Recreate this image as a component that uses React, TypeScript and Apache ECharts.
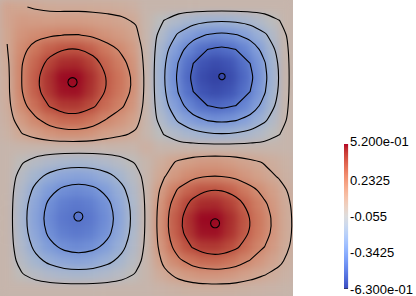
import React, { useEffect, useRef } from "react";
import * as echarts from "echarts";

// Scalar field sampled on a 21 x 21 grid (rows top -> bottom, columns left -> right)
const fieldRows: number[][] = [
  [0.100, 0.095, 0.080, 0.070, 0.068, 0.068, 0.066, 0.062, 0.055, 0.040, 0, 0, 0, 0, 0, 0, 0, 0, 0, 0, 0],
  [0.100, 0.140, 0.135, 0.132, 0.135, 0.135, 0.128, 0.118, 0.105, 0.080, 0, -0.060, -0.114, -0.157, -0.185, -0.195, -0.185, -0.157, -0.114, -0.060, 0],
  [0.095, 0.170, 0.200, 0.220, 0.235, 0.237, 0.215, 0.180, 0.150, 0.110, 0, -0.114, -0.218, -0.300, -0.352, -0.370, -0.352, -0.300, -0.218, -0.114, 0],
  [0.085, 0.200, 0.275, 0.335, 0.372, 0.375, 0.340, 0.275, 0.215, 0.150, 0, -0.157, -0.300, -0.412, -0.485, -0.510, -0.485, -0.412, -0.300, -0.157, 0],
  [0.070, 0.225, 0.320, 0.412, 0.466, 0.469, 0.420, 0.332, 0.262, 0.180, 0, -0.185, -0.352, -0.485, -0.570, -0.599, -0.570, -0.485, -0.352, -0.185, 0],
  [0.063, 0.230, 0.348, 0.454, 0.513, 0.517, 0.463, 0.366, 0.289, 0.199, 0, -0.195, -0.370, -0.510, -0.599, -0.630, -0.599, -0.510, -0.370, -0.195, 0],
  [0.061, 0.225, 0.341, 0.445, 0.503, 0.507, 0.454, 0.358, 0.283, 0.195, 0, -0.185, -0.352, -0.485, -0.570, -0.599, -0.570, -0.485, -0.352, -0.185, 0],
  [0.053, 0.195, 0.295, 0.385, 0.435, 0.438, 0.392, 0.310, 0.245, 0.168, 0, -0.157, -0.300, -0.412, -0.485, -0.510, -0.485, -0.412, -0.300, -0.157, 0],
  [0.039, 0.142, 0.214, 0.280, 0.316, 0.319, 0.285, 0.225, 0.178, 0.122, 0, -0.114, -0.218, -0.300, -0.352, -0.370, -0.352, -0.300, -0.218, -0.114, 0],
  [0.023, 0.084, 0.127, 0.166, 0.187, 0.189, 0.169, 0.133, 0.105, 0.072, 0, -0.060, -0.114, -0.157, -0.185, -0.195, -0.185, -0.157, -0.114, -0.060, 0],
  [0, 0, 0, 0, 0, 0, 0, 0, 0, 0, 0.040, 0, 0, 0, 0, 0, 0, 0, 0, 0, 0],
  [0, -0.046, -0.087, -0.120, -0.141, -0.148, -0.141, -0.120, -0.087, -0.046, 0, 0.055, 0.102, 0.134, 0.151, 0.152, 0.137, 0.109, 0.081, 0.052, 0.023],
  [0, -0.087, -0.166, -0.228, -0.268, -0.282, -0.268, -0.228, -0.166, -0.087, 0, 0.084, 0.154, 0.204, 0.229, 0.230, 0.208, 0.165, 0.122, 0.080, 0.035],
  [0, -0.120, -0.228, -0.314, -0.369, -0.388, -0.369, -0.314, -0.228, -0.120, 0, 0.135, 0.249, 0.328, 0.370, 0.372, 0.335, 0.267, 0.197, 0.128, 0.056],
  [0, -0.141, -0.268, -0.369, -0.434, -0.456, -0.434, -0.369, -0.268, -0.141, 0, 0.170, 0.314, 0.413, 0.465, 0.468, 0.422, 0.335, 0.249, 0.162, 0.071],
  [0, -0.148, -0.282, -0.388, -0.456, -0.480, -0.456, -0.388, -0.282, -0.148, 0, 0.188, 0.347, 0.457, 0.515, 0.517, 0.466, 0.371, 0.275, 0.179, 0.078],
  [0, -0.141, -0.268, -0.369, -0.434, -0.456, -0.434, -0.369, -0.268, -0.141, 0, 0.184, 0.340, 0.448, 0.504, 0.507, 0.457, 0.363, 0.269, 0.175, 0.077],
  [0, -0.120, -0.228, -0.314, -0.369, -0.388, -0.369, -0.314, -0.228, -0.120, 0, 0.159, 0.294, 0.387, 0.436, 0.438, 0.395, 0.314, 0.233, 0.151, 0.066],
  [0, -0.087, -0.166, -0.228, -0.268, -0.282, -0.268, -0.228, -0.166, -0.087, 0, 0.115, 0.212, 0.279, 0.314, 0.316, 0.285, 0.227, 0.168, 0.109, 0.048],
  [0, -0.046, -0.087, -0.120, -0.141, -0.148, -0.141, -0.120, -0.087, -0.046, 0, 0.062, 0.115, 0.152, 0.171, 0.172, 0.155, 0.123, 0.091, 0.059, 0.026],
  [0, 0, 0, 0, 0, 0, 0, 0, 0, 0, 0, 0.015, 0.028, 0.037, 0.041, 0.042, 0.038, 0.030, 0.022, 0.014, 0.006],
];

// Contour values
const contourLevels = [-0.48625, -0.3425, -0.19875, -0.055, 0.08875, 0.2325, 0.37625];

// Extrema (grid index units): TL max, TR min, BL min, BR max
const extremaX = [4.57, 15.02, 4.98, 14.54];
const extremaY = [5.34, 4.93, 14.86, 15.34];

// Colour bar
const valueMin = -0.63;
const valueMax = 0.52;
const colorbarLabels = ["-6.300e-01", "-0.3425", "-0.055", "0.2325", "5.200e-01"];

// Cool to Warm colour map
const coolWarm: number[][] = [
  [59, 76, 192], [68, 90, 204], [77, 104, 215], [87, 117, 225], [98, 130, 234], [108, 142, 241],
  [119, 154, 247], [130, 165, 251], [141, 176, 254], [152, 185, 255], [163, 194, 255], [174, 201, 253],
  [184, 208, 249], [194, 213, 244], [204, 217, 238], [213, 219, 230], [221, 221, 221], [229, 216, 209],
  [236, 211, 197], [241, 204, 185], [245, 196, 173], [247, 187, 160], [247, 177, 148], [246, 166, 135],
  [244, 154, 123], [241, 141, 111], [236, 127, 99], [229, 112, 88], [222, 96, 77], [213, 80, 66],
  [203, 62, 56], [192, 40, 47], [180, 4, 38],
];

const PLOT_W = 293;
const PLOT_H = 296;
const NY = fieldRows.length;
const NX = fieldRows[0].length;
const CELL_W = PLOT_W / (NX - 1);
const CELL_H = PLOT_H / (NY - 1);
const SHADE = 0.85;
const markerRadii = [4.6, 3.2, 4.5, 4.5];

function rgbStr(c: number[], f = 1) {
  return `rgb(${Math.round(c[0] * f)},${Math.round(c[1] * f)},${Math.round(c[2] * f)})`;
}

function colorAt(v: number, f = 1) {
  const t = ((v - valueMin) / (valueMax - valueMin)) * (coolWarm.length - 1);
  const k = Math.min(coolWarm.length - 2, Math.max(0, Math.floor(t)));
  const u = Math.min(1, Math.max(0, t - k));
  const a = coolWarm[k];
  const b = coolWarm[k + 1];
  return rgbStr([a[0] + (b[0] - a[0]) * u, a[1] + (b[1] - a[1]) * u, a[2] + (b[2] - a[2]) * u], f);
}

type Chain = { closed: boolean; pts: number[][] };

function contourChains(g: number[][], level: number): Chain[] {
  const pts = new Map<string, number[]>();
  const segs: string[][] = [];
  const ny = g.length;
  const nx = g[0].length;
  const ep = (key: string, x0: number, y0: number, v0: number, x1: number, y1: number, v1: number) => {
    if (!pts.has(key)) {
      const t = (level - v0) / (v1 - v0);
      pts.set(key, [x0 + (x1 - x0) * t, y0 + (y1 - y0) * t]);
    }
    return key;
  };
  for (let j = 0; j < ny - 1; j++) {
    for (let i = 0; i < nx - 1; i++) {
      const a = g[j][i], b = g[j][i + 1], c = g[j + 1][i + 1], d = g[j + 1][i];
      const A = a > level, B = b > level, C = c > level, D = d > level;
      const e: Record<string, string> = {};
      if (A !== B) e.top = ep(`h${i}_${j}`, i, j, a, i + 1, j, b);
      if (B !== C) e.right = ep(`v${i + 1}_${j}`, i + 1, j, b, i + 1, j + 1, c);
      if (D !== C) e.bottom = ep(`h${i}_${j + 1}`, i, j + 1, d, i + 1, j + 1, c);
      if (A !== D) e.left = ep(`v${i}_${j}`, i, j, a, i, j + 1, d);
      const ks = Object.keys(e);
      if (ks.length === 2) {
        segs.push([e[ks[0]], e[ks[1]]]);
      } else if (ks.length === 4) {
        const center = (a + b + c + d) / 4 > level;
        if (A) {
          if (center) { segs.push([e.top, e.right]); segs.push([e.left, e.bottom]); }
          else { segs.push([e.top, e.left]); segs.push([e.right, e.bottom]); }
        } else {
          if (center) { segs.push([e.top, e.left]); segs.push([e.right, e.bottom]); }
          else { segs.push([e.top, e.right]); segs.push([e.left, e.bottom]); }
        }
      }
    }
  }
  const adj = new Map<string, number[]>();
  segs.forEach((s, idx) => {
    for (const k of s) {
      if (!adj.has(k)) adj.set(k, []);
      adj.get(k)!.push(idx);
    }
  });
  const used = segs.map(() => false);
  const chains: Chain[] = [];
  for (let s0 = 0; s0 < segs.length; s0++) {
    if (used[s0]) continue;
    used[s0] = true;
    const keys = [segs[s0][0], segs[s0][1]];
    const extend = (front: boolean) => {
      for (;;) {
        const end = front ? keys[keys.length - 1] : keys[0];
        const next = (adj.get(end) || []).find((n) => !used[n]);
        if (next === undefined) break;
        used[next] = true;
        const s = segs[next];
        const other = s[0] === end ? s[1] : s[0];
        if (front) keys.push(other);
        else keys.unshift(other);
      }
    };
    extend(true);
    extend(false);
    const closed = keys.length > 2 && keys[0] === keys[keys.length - 1];
    if (closed) keys.pop();
    chains.push({ closed, pts: keys.map((k) => pts.get(k)!) });
  }
  return chains;
}

export default function App() {
  const heatRef = useRef<HTMLDivElement>(null);
  const overRef = useRef<HTMLDivElement>(null);

  useEffect(() => {
    const heat = echarts.init(heatRef.current!, null, { renderer: "svg" });
    const over = echarts.init(overRef.current!, null, { renderer: "svg" });

    const heatData: number[][] = [];
    fieldRows.forEach((row, j) => row.forEach((v, i) => heatData.push([i, j, v])));
    const xCats = fieldRows[0].map((_, i) => String(i));
    const yCats = fieldRows.map((_, j) => String(j));
    const gridRect = {
      left: -CELL_W / 2,
      top: -CELL_H / 2,
      width: NX * CELL_W,
      height: NY * CELL_H,
    };

    heat.setOption({
      animation: false,
      grid: { ...gridRect, containLabel: false },
      xAxis: { type: "category", data: xCats, show: false },
      yAxis: { type: "category", data: yCats, show: false, inverse: true },
      visualMap: {
        show: false,
        min: valueMin,
        max: valueMax,
        dimension: 2,
        seriesIndex: 0,
        inRange: { color: coolWarm.map((c) => rgbStr(c, SHADE)) },
      },
      series: [
        {
          type: "heatmap",
          data: heatData,
          itemStyle: { borderWidth: 0 },
          emphasis: { disabled: true },
        },
      ],
    });

    const range = valueMax - valueMin;
    const step = range / 4;
    const stops = coolWarm.map((c, k) => ({ offset: k / (coolWarm.length - 1), color: rgbStr(c) }));
    const labelFont = { fontFamily: "Liberation Sans", fontSize: 13, color: "#000" };

    over.setOption({
      animation: false,
      grid: [
        { ...gridRect, containLabel: false },
        { left: 344, top: 144, width: 8, height: 148, containLabel: false },
      ],
      xAxis: [
        { type: "value", gridIndex: 0, min: -0.5, max: NX - 0.5, show: false },
        { type: "value", gridIndex: 1, min: 0, max: 1, show: false },
      ],
      yAxis: [
        { type: "value", gridIndex: 0, min: -0.5, max: NY - 0.5, inverse: true, show: false },
        {
          type: "value",
          gridIndex: 1,
          min: 0,
          max: range,
          interval: step,
          position: "right",
          axisLine: { show: false },
          axisTick: { show: true, length: 4, lineStyle: { color: "#222", width: 1 } },
          minorTick: { show: true, splitNumber: 5, length: 4, lineStyle: { color: "#222", width: 1 } },
          splitLine: { show: false },
          minorSplitLine: { show: false },
          axisLabel: {
            margin: 2,
            ...labelFont,
            formatter: (v: number) => {
              const idx = Math.round(v / step);
              const txt = colorbarLabels[idx] ?? "";
              if (idx === colorbarLabels.length - 1) return `{top|${txt}}`;
              if (idx === 0) return `{bot|${txt}}`;
              return txt;
            },
            rich: {
              top: { ...labelFont, padding: [0, 0, 6, 0] },
              bot: { ...labelFont, padding: [2, 0, 0, 0] },
            },
          },
        },
      ],
      series: [
        {
          type: "custom",
          xAxisIndex: 0,
          yAxisIndex: 0,
          silent: true,
          data: contourLevels.map((lv) => [0, 0, lv]),
          renderItem: (params: any, api: any) => {
            const level = api.value(2);
            const chains = contourChains(fieldRows, level);
            return {
              type: "group",
              children: chains.map((ch) => ({
                type: ch.closed ? "polygon" : "polyline",
                shape: { points: ch.pts.map((p) => api.coord(p)), smooth: 0.3 },
                style: { fill: "none", stroke: "#000", lineWidth: 1.1 },
                silent: true,
              })),
            };
          },
        },
        {
          type: "custom",
          xAxisIndex: 0,
          yAxisIndex: 0,
          silent: true,
          data: extremaX.map((x, k) => [x, extremaY[k]]),
          renderItem: (params: any, api: any) => {
            const c = api.coord([api.value(0), api.value(1)]);
            return {
              type: "circle",
              shape: { cx: c[0], cy: c[1], r: markerRadii[params.dataIndex] },
              style: { fill: "none", stroke: "#000", lineWidth: 1.1 },
            };
          },
        },
        {
          type: "custom",
          xAxisIndex: 1,
          yAxisIndex: 1,
          silent: true,
          data: [[0, 0]],
          renderItem: (params: any, api: any) => {
            const p0 = api.coord([0, 0]);
            const p1 = api.coord([1, range]);
            return {
              type: "rect",
              shape: { x: p0[0], y: p1[1], width: p1[0] - p0[0], height: p0[1] - p1[1] },
              style: { fill: new echarts.graphic.LinearGradient(0, 1, 0, 0, stops) },
            };
          },
        },
      ],
    });

    return () => {
      heat.dispose();
      over.dispose();
    };
  }, []);

  return (
    <div
      style={{
        position: "fixed",
        left: 0,
        top: 0,
        width: 416,
        height: 296,
        background: "#fff",
        overflow: "hidden",
      }}
    >
      <div
        style={{
          position: "absolute",
          left: 0,
          top: 0,
          width: PLOT_W,
          height: PLOT_H,
          overflow: "hidden",
          background: colorAt(0, SHADE),
        }}
      >
        <div
          ref={heatRef}
          style={{ position: "absolute", left: 0, top: 0, width: PLOT_W, height: PLOT_H, filter: "blur(4.5px)" }}
        />
      </div>
      <div ref={overRef} style={{ position: "absolute", left: 0, top: 0, width: 416, height: 296 }} />
    </div>
  );
}
